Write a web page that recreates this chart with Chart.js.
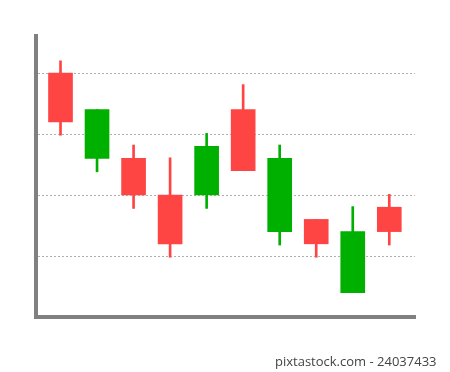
<!DOCTYPE html>
<html>
<head>
<meta charset="utf-8">
<script src="https://cdn.jsdelivr.net/npm/chart.js@4/dist/chart.umd.min.js"></script>
<style>
  html, body { margin: 0; padding: 0; background: #fff; }
  .wrap { position: relative; width: 450px; height: 372px; }
  .credit {
    position: absolute; left: 275px; top: 352px;
    font: 13px "Open Sans", "DejaVu Sans", sans-serif; color: #444;
    white-space: nowrap;
  }
</style>
</head>
<body>
<div class="wrap">
  <canvas id="candleChart" width="450" height="372"></canvas>
  <div class="credit">pixtastock.com - 24037433</div>
</div>
<script>
  // candle values, one per session
  const opens  = [40, 26, 26, 20, 20, 34, 14, 16, 4, 18];
  const closes = [32, 34, 20, 12, 28, 24, 26, 12, 14, 14];
  const highs  = [42, 34, 28.2, 26.1, 30.1, 38.1, 28.2, 16, 18.1, 20.1];
  const lows   = [29.8, 23.8, 17.8, 9.8, 17.8, 24, 11.8, 9.8, 4, 11.8];
  const gridValues = [10, 20, 30, 40];

  (() => {
    const ctx = document.getElementById('candleChart');
    const up = '#00b000';
    const down = '#ff4444';
    const colors = opens.map((o, i) => (closes[i] >= o ? up : down));

    new Chart(ctx, {
      type: 'bar',
      data: {
        datasets: [
          {
            label: 'wick',
            data: highs.map((h, i) => ({ x: i, y: [lows[i], h] })),
            backgroundColor: colors,
            barThickness: 2,
            grouped: false,
            order: 2,
          },
          {
            label: 'body',
            data: opens.map((o, i) => ({ x: i, y: [o, closes[i]] })),
            backgroundColor: colors,
            barThickness: 24,
            grouped: false,
            order: 1,
          },
        ],
      },
      options: {
        responsive: false,
        animation: false,
        layout: { padding: { left: 36, top: 36, right: 35, bottom: 55 } },
        plugins: { legend: { display: false }, tooltip: { enabled: false } },
        scales: {
          x: {
            type: 'linear',
            offset: false,
            min: -0.671,
            max: 9.704,
            ticks: { display: false },
            grid: { display: false, drawTicks: false, offset: false },
            border: { color: '#808080', width: 4 },
          },
          y: {
            min: 0,
            max: 46.07,
            afterBuildTicks: (scale) => {
              scale.ticks = gridValues.map(v => ({ value: v }));
            },
            ticks: { display: false },
            grid: { color: '#b0b0b0', lineWidth: 1, drawTicks: false },
            border: { color: '#808080', width: 4, dash: [2, 2] },
          },
        },
      },
    });
  })();
</script>
</body>
</html>
